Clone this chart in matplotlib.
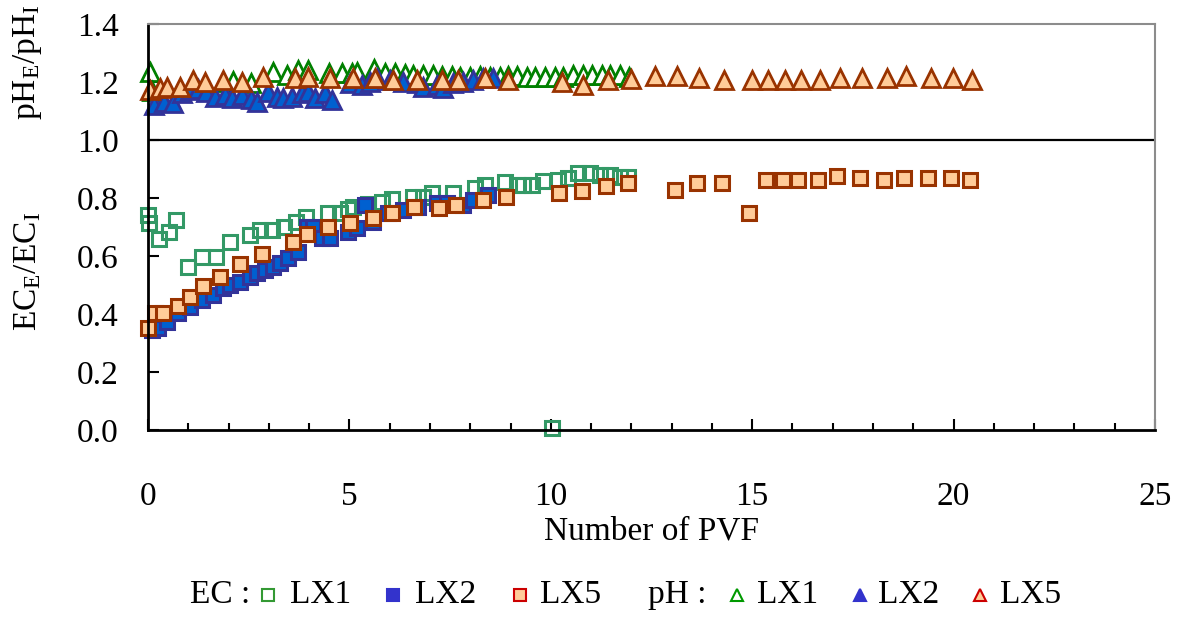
import matplotlib
matplotlib.use('Agg')
import matplotlib.pyplot as plt
from matplotlib.lines import Line2D
from matplotlib.ticker import MultipleLocator, FormatStrFormatter

plt.rcParams['font.family'] = ['Liberation Serif', 'DejaVu Serif']
plt.rcParams['mathtext.fontset'] = 'custom'
plt.rcParams['mathtext.rm'] = 'Liberation Serif'
plt.rcParams['mathtext.it'] = 'Liberation Serif:italic'

# EC ratio (EC_E / EC_I)
ec_lx1_x = [0.0, 0.02, 0.27, 0.52, 0.70, 0.99, 1.34, 1.69, 2.04, 2.53, 2.78, 3.08, 3.38,
            3.67, 3.92, 4.47, 4.77, 4.97, 5.09, 5.45, 5.81, 6.06, 6.58, 6.83, 7.05, 7.57,
            8.12, 8.37, 8.86, 9.16, 9.31, 9.53, 9.81, 10.03, 10.18, 10.43, 10.68, 10.97,
            11.22, 11.47, 11.72, 11.92]
ec_lx1_y = [0.741, 0.714, 0.659, 0.683, 0.724, 0.562, 0.597, 0.597, 0.648, 0.672, 0.690,
            0.690, 0.700, 0.717, 0.734, 0.748, 0.748, 0.762, 0.769, 0.778, 0.786, 0.797,
            0.803, 0.803, 0.817, 0.817, 0.834, 0.845, 0.855, 0.845, 0.845, 0.845, 0.859,
            0.007, 0.862, 0.869, 0.886, 0.886, 0.879, 0.879, 0.872, 0.872]

ec_lx2_x = [0.10, 0.25, 0.47, 0.74, 1.04, 1.34, 1.61, 1.86, 2.04, 2.28, 2.53, 2.71, 2.90,
            3.10, 3.28, 3.48, 3.72, 3.95, 4.10, 4.32, 4.52, 4.97, 5.19, 5.39, 5.59, 5.96,
            6.33, 6.70, 7.17, 7.42, 7.82, 8.07, 8.44]
ec_lx2_y = [0.345, 0.352, 0.372, 0.403, 0.424, 0.448, 0.466, 0.490, 0.500, 0.510, 0.528,
            0.541, 0.552, 0.562, 0.576, 0.593, 0.614, 0.700, 0.700, 0.662, 0.662, 0.683,
            0.697, 0.776, 0.717, 0.748, 0.759, 0.769, 0.783, 0.783, 0.776, 0.793, 0.810]

ec_lx5_x = [0.0, 0.17, 0.37, 0.74, 1.04, 1.37, 1.79, 2.28, 2.83, 3.60, 3.95, 4.47, 5.01,
            5.59, 6.06, 6.60, 7.22, 7.65, 8.32, 8.89, 10.20, 10.77, 11.37, 11.92, 13.08,
            13.63, 14.25, 14.92, 15.34, 15.76, 16.14, 16.63, 17.11, 17.68, 18.27, 18.77,
            19.36, 19.94, 20.41]
ec_lx5_y = [0.352, 0.403, 0.403, 0.428, 0.459, 0.497, 0.528, 0.572, 0.607, 0.648, 0.676,
            0.700, 0.714, 0.731, 0.748, 0.769, 0.766, 0.776, 0.793, 0.803, 0.817, 0.824,
            0.841, 0.852, 0.828, 0.852, 0.852, 0.748, 0.862, 0.862, 0.862, 0.862, 0.876,
            0.869, 0.862, 0.869, 0.869, 0.869, 0.862]

# pH ratio (pH_E / pH_I)
ph_lx1_x = [0.05, 0.10, 1.85, 2.10, 2.55, 3.10, 3.45, 3.72, 3.97, 4.50, 4.82, 5.06, 5.20,
            5.62, 5.88, 6.13, 6.38, 6.58, 6.83, 7.08, 7.30, 7.55, 7.75, 7.99, 8.24, 8.49,
            8.74, 8.94, 9.16, 9.41, 9.61, 9.86, 10.10, 10.30, 10.55, 10.80, 11.03, 11.27,
            11.47, 11.72, 11.95]
ph_lx1_y = [1.235, 1.170, 1.200, 1.205, 1.195, 1.235, 1.225, 1.240, 1.240, 1.230, 1.230,
            1.230, 1.235, 1.245, 1.230, 1.230, 1.228, 1.224, 1.224, 1.224, 1.220, 1.220,
            1.217, 1.217, 1.220, 1.217, 1.217, 1.220, 1.220, 1.217, 1.217, 1.217, 1.217,
            1.217, 1.224, 1.224, 1.224, 1.224, 1.224, 1.224, 1.217]

ph_lx2_x = [0.15, 0.40, 0.62, 0.84, 1.04, 1.25, 1.45, 1.66, 1.91, 2.08, 2.33, 2.55, 2.70,
            2.98, 3.20, 3.35, 3.57, 3.82, 3.97, 4.15, 4.39, 4.57, 5.01, 5.31, 5.51, 5.69,
            6.01, 6.33, 6.68, 6.83, 7.17, 7.32, 7.57, 7.82, 8.07, 8.32, 8.57]
ph_lx2_y = [1.120, 1.130, 1.128, 1.162, 1.172, 1.175, 1.165, 1.148, 1.155, 1.145, 1.155,
            1.140, 1.131, 1.166, 1.148, 1.145, 1.148, 1.162, 1.166, 1.145, 1.162, 1.138,
            1.197, 1.190, 1.200, 1.214, 1.207, 1.200, 1.197, 1.183, 1.190, 1.179, 1.197,
            1.200, 1.207, 1.214, 1.214]

ph_lx5_x = [0.05, 0.30, 0.47, 0.79, 1.12, 1.42, 1.86, 2.33, 2.86, 3.65, 3.97, 4.52, 5.09,
            5.64, 6.08, 6.68, 7.30, 7.70, 8.37, 8.94, 10.28, 10.80, 11.42, 11.99, 12.59,
            13.13, 13.68, 14.30, 14.99, 15.39, 15.81, 16.21, 16.68, 17.18, 17.73, 18.35,
            18.82, 19.44, 19.98, 20.46]
ph_lx5_y = [1.172, 1.179, 1.183, 1.183, 1.207, 1.200, 1.207, 1.200, 1.217, 1.214, 1.217,
            1.214, 1.214, 1.214, 1.207, 1.207, 1.207, 1.207, 1.214, 1.207, 1.200, 1.190,
            1.207, 1.210, 1.221, 1.221, 1.214, 1.207, 1.207, 1.207, 1.207, 1.207, 1.207,
            1.214, 1.214, 1.214, 1.221, 1.214, 1.214, 1.207]

GREEN_SQ = '#339966'
GREEN_TR = '#008000'
BLUE_FILL = '#0060d0'
BLUE_EDGE = '#333399'
PEACH = '#ffcc99'
BROWN = '#993300'
FS = 24

fig = plt.figure(figsize=(11.81, 6.19), dpi=100, facecolor='white')
ax = fig.add_axes([148 / 1181, 1 - 430 / 619, 1007 / 1181, 406 / 619])

sq = dict(linestyle='none', marker='s', markersize=10.5, markeredgewidth=2.2, clip_on=False)
tr = dict(linestyle='none', marker='^', markersize=13, markeredgewidth=2.0, clip_on=False)

ax.plot(ph_lx1_x, ph_lx1_y, markerfacecolor='white', markeredgecolor=GREEN_TR, **tr)
ax.plot(ph_lx2_x, ph_lx2_y, markerfacecolor=BLUE_FILL, markeredgecolor=BLUE_EDGE, **tr)
ax.plot(ph_lx5_x, ph_lx5_y, markerfacecolor=PEACH, markeredgecolor=BROWN, **tr)

ax.plot(ec_lx1_x, ec_lx1_y, markerfacecolor='none', markeredgecolor=GREEN_SQ, **sq)
ax.plot(ec_lx2_x, ec_lx2_y, markerfacecolor=BLUE_FILL, markeredgecolor=BLUE_EDGE, **sq)
ax.plot(ec_lx5_x, ec_lx5_y, markerfacecolor=PEACH, markeredgecolor=BROWN, **sq)

ax.axhline(1.0, color='black', linewidth=1.6, zorder=1)

ax.set_xlim(0, 25)
ax.set_ylim(0, 1.4)
ax.xaxis.set_major_locator(MultipleLocator(5))
ax.xaxis.set_minor_locator(MultipleLocator(1))
ax.yaxis.set_major_locator(MultipleLocator(0.2))
ax.yaxis.set_major_formatter(FormatStrFormatter('%.1f'))

ax.tick_params(axis='both', which='both', direction='in', labelsize=FS, width=1.5, colors='black')
ax.tick_params(axis='x', which='major', length=8, pad=37)
ax.tick_params(axis='x', which='minor', length=5)
ax.tick_params(axis='y', which='major', length=8, pad=21)

for side in ['left', 'bottom']:
    ax.spines[side].set_linewidth(2)
    ax.spines[side].set_color('black')
for side in ['top', 'right']:
    ax.spines[side].set_linewidth(1.5)
    ax.spines[side].set_color('#8c8c8c')

ax.set_xlabel('Number of PVF', fontsize=FS)
ax.xaxis.set_label_coords(0.5, -0.212)

fig.text(28 / 1181, 1 - 62 / 619, r'pH$_{\rm E}$/pH$_{\rm I}$', rotation=90,
         fontsize=FS, ha='center', va='center')
fig.text(28 / 1181, 1 - 271 / 619, r'EC$_{\rm E}$/EC$_{\rm I}$', rotation=90,
         fontsize=FS, ha='center', va='center')

# legend row drawn by hand
leg_y = 1 - 595 / 619
labels = [
    (190, 'EC :'),
    (290, 'LX1'), (415, 'LX2'), (540, 'LX5'),
    (648, 'pH :'),
    (757, 'LX1'), (878, 'LX2'), (1000, 'LX5'),
]
for px, text in labels:
    fig.text(px / 1181, leg_y, text, fontsize=FS, ha='left', va='center')

RED = '#cc0000'
handles = [
    (268, 's', 'none', '#339933'),
    (393, 's', '#3333cc', '#3333cc'),
    (520, 's', PEACH, RED),
    (737, '^', 'none', '#009900'),
    (860, '^', '#3333cc', '#3333cc'),
    (980, '^', PEACH, RED),
]
for px, marker, face, edge in handles:
    fig.add_artist(Line2D([px / 1181], [leg_y], transform=fig.transFigure, marker=marker,
                          markersize=8, markerfacecolor=face, markeredgecolor=edge,
                          markeredgewidth=1.5, linestyle='none'))

fig.savefig('out.png', dpi=100, facecolor='white')
plt.close(fig)
